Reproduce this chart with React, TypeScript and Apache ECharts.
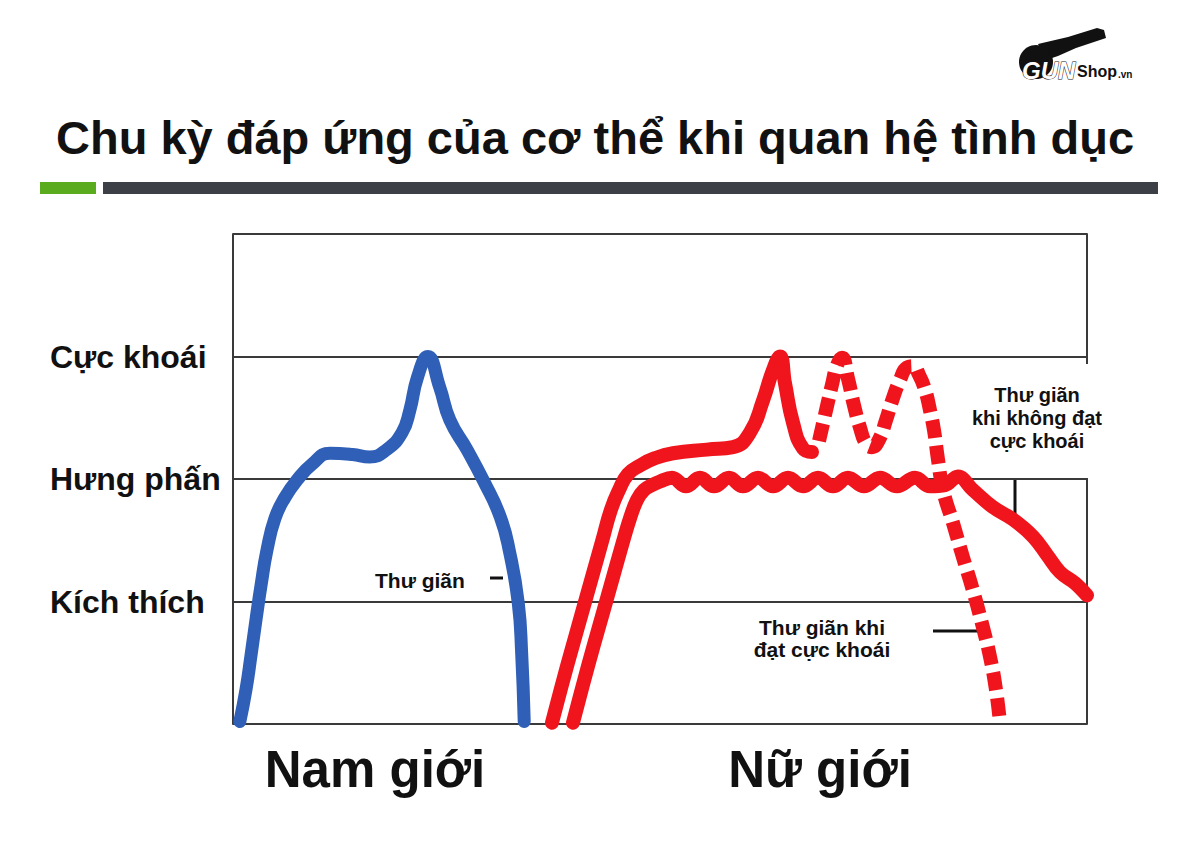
import React, { useEffect, useRef } from "react";
import * as echarts from "echarts";

// Y levels (0 = baseline, 4 = top of frame)
const levelLabels = ["", "Kích thích", "Hưng phấn", "Cực khoái", ""];

// Male curve (time 0..100, level 0..4)
const maleTime = [0.8, 1.52, 2.11, 2.69, 3.28, 3.98, 4.92, 6.09, 7.49, 9.25, 11.36, 14.0, 16.0, 18.0, 19.8, 20.7, 21.6, 22.8, 24.2, 25.4, 27.4, 29.3, 31.3, 32.4, 33.4, 33.8, 34.1];
const maleLevel = [0.02, 0.28, 0.56, 0.85, 1.13, 1.42, 1.68, 1.85, 1.99, 2.12, 2.21, 2.2, 2.18, 2.24, 2.38, 2.56, 2.83, 3.0, 2.75, 2.48, 2.24, 1.99, 1.69, 1.4, 0.99, 0.58, 0.02];

// Female: path reaching orgasm (solid part)
const femaleOrgTime = [37.35, 38.52, 39.7, 40.87, 42.04, 43.21, 44.26, 45.2, 46.25, 47.66, 49.41, 51.52, 55.5, 58.55, 60.54, 62.06, 63.23, 64.05, 64.64, 65.57, 66.74, 67.8];
const femaleOrgLevel = [0.01, 0.32, 0.62, 0.91, 1.2, 1.49, 1.75, 1.91, 2.04, 2.11, 2.17, 2.21, 2.24, 2.26, 2.38, 2.64, 2.89, 3.0, 2.78, 2.46, 2.25, 2.22];

// Female: multiple orgasms then relaxation (dashed)
const femaleMultiTime = [68.62, 69.44, 70.14, 70.73, 71.31, 72.01, 72.72, 73.42, 74.12, 74.82, 75.64, 76.46, 77.28, 78.1, 78.92, 79.63, 80.33, 81.03, 81.62, 82.08, 82.55, 83.14, 84.31, 85.48, 86.65, 87.7, 88.64, 89.34, 89.81];
const femaleMultiLevel = [2.31, 2.56, 2.77, 2.93, 2.99, 2.82, 2.6, 2.42, 2.29, 2.26, 2.32, 2.48, 2.66, 2.81, 2.91, 2.92, 2.85, 2.73, 2.56, 2.4, 2.16, 1.91, 1.64, 1.36, 1.09, 0.82, 0.55, 0.28, 0.01];

// Female: plateau without orgasm (solid, wavy)
const femalePlateauTime = [39.81, 40.98, 42.15, 43.33, 44.5, 45.55, 46.49, 47.31, 48.13, 49.06, 50.0, 51.41, 53.04, 54.68, 56.32, 58.08, 59.72, 61.48, 63.23, 64.99, 66.74, 68.5, 70.26, 72.01, 73.89, 75.76, 77.75, 79.86, 81.62, 83.37, 84.89, 86.65, 88.99, 91.33, 93.68, 95.32, 96.84, 98.59, 100];
const femalePlateauLevel = [0.01, 0.32, 0.62, 0.91, 1.2, 1.46, 1.68, 1.83, 1.91, 1.95, 1.98, 2.01, 1.94, 2.01, 1.94, 2.01, 1.94, 2.01, 1.94, 2.01, 1.94, 2.01, 1.94, 2.01, 1.94, 2.01, 1.94, 2.01, 1.94, 1.95, 2.02, 1.91, 1.77, 1.67, 1.53, 1.38, 1.24, 1.15, 1.05];

const titleText = "Chu kỳ đáp ứng của cơ thể khi quan hệ tình dục";
const groupLabels = ["Nam giới", "Nữ giới"];
const noteRelax = "Thư giãn";
const noteRelaxOrg = "Thư giãn khi\nđạt cực khoái";
const noteRelaxNoOrg = "Thư giãn\nkhi không đạt\ncực khoái";

const pair = (xs: number[], ys: number[]) => xs.map((x, i) => [x, ys[i]]);

const FONT = "'Liberation Sans', Arial, sans-serif";
const BLUE = "#2f5fb6";
const RED = "#f0151d";
const GRID = "#3a3a3a";

export default function App() {
  const ref = useRef<HTMLDivElement>(null);
  useEffect(() => {
    if (!ref.current) return;
    const chart = echarts.init(ref.current, undefined, { renderer: "svg" });
    const lineBase = { type: "line", smooth: 0.5, symbol: "none", silent: true };
    chart.setOption({
      animation: false,
      backgroundColor: "#ffffff",
      grid: { left: 233, right: 113, top: 234, bottom: 126, containLabel: false },
      xAxis: {
        type: "value",
        min: 0,
        max: 100,
        axisLine: { show: false },
        axisTick: { show: false },
        axisLabel: { show: false },
        splitLine: { show: false },
      },
      yAxis: [
        {
          type: "value",
          min: 0,
          max: 4,
          interval: 1,
          position: "left",
          axisLine: { show: true, lineStyle: { color: GRID, width: 2 } },
          axisTick: { show: false },
          axisLabel: {
            formatter: (v: number) => levelLabels[Math.round(v)] || "",
            align: "left",
            margin: 183,
            fontSize: 32,
            fontWeight: "bold",
            color: "#111",
            fontFamily: FONT,
          },
          splitLine: { show: true, lineStyle: { color: GRID, width: 2 } },
        },
        {
          type: "value",
          min: 0,
          max: 4,
          position: "right",
          axisLine: { show: true, lineStyle: { color: GRID, width: 2 } },
          axisTick: { show: false },
          axisLabel: { show: false },
          splitLine: { show: false },
        },
      ],
      series: [
        {
          ...lineBase,
          name: "male",
          data: pair(maleTime, maleLevel),
          lineStyle: { color: BLUE, width: 13, cap: "round", join: "round" },
        },
        {
          ...lineBase,
          name: "femalePlateau",
          smooth: 0.4,
          data: pair(femalePlateauTime, femalePlateauLevel),
          lineStyle: { color: RED, width: 14, cap: "round", join: "round" },
        },
        {
          ...lineBase,
          name: "femaleOrg",
          data: pair(femaleOrgTime, femaleOrgLevel),
          lineStyle: { color: RED, width: 14, cap: "round", join: "round" },
        },
        {
          ...lineBase,
          name: "femaleMulti",
          data: pair(femaleMultiTime, femaleMultiLevel),
          lineStyle: { color: RED, width: 14, type: [18, 8], cap: "butt", join: "round" },
        },
      ],
      graphic: [
        // logo
        {
          type: "polygon",
          shape: { points: [[1038, 44], [1068, 37], [1097, 28], [1104, 30], [1106, 38], [1076, 48], [1058, 56], [1046, 60]] },
          style: { fill: "#111" },
        },
        { type: "circle", shape: { cx: 1036, cy: 62, r: 17 }, style: { fill: "#111" } },
        {
          type: "text",
          x: 1022,
          y: 70,
          style: { text: "GUN", font: `italic bold 24px ${FONT}`, fill: "#fff", stroke: "#111", lineWidth: 1, verticalAlign: "middle" },
        },
        {
          type: "text",
          x: 1077,
          y: 71,
          style: { text: "Shop", font: `bold 16px ${FONT}`, fill: "#111", verticalAlign: "middle" },
        },
        {
          type: "text",
          x: 1118,
          y: 74,
          style: { text: ".vn", font: `bold 10px ${FONT}`, fill: "#111", verticalAlign: "middle" },
        },
        // title
        {
          type: "text",
          x: 595,
          y: 137,
          style: { text: titleText, font: `bold 47px ${FONT}`, fill: "#111", align: "center", verticalAlign: "middle" },
        },
        { type: "rect", shape: { x: 40, y: 182, width: 56, height: 12 }, style: { fill: "#5aab1e" } },
        { type: "rect", shape: { x: 103, y: 182, width: 1055, height: 12 }, style: { fill: "#3c4046" } },
        // bottom group labels
        {
          type: "text",
          x: 375,
          y: 769,
          style: { text: groupLabels[0], font: `bold 51px ${FONT}`, fill: "#111", align: "center", verticalAlign: "middle" },
        },
        {
          type: "text",
          x: 820,
          y: 769,
          style: { text: groupLabels[1], font: `bold 51px ${FONT}`, fill: "#111", align: "center", verticalAlign: "middle" },
        },
        // annotations
        {
          type: "text",
          x: 375,
          y: 580,
          style: { text: noteRelax, font: `bold 21px ${FONT}`, fill: "#111", verticalAlign: "middle" },
        },
        { type: "line", shape: { x1: 490, y1: 578, x2: 503, y2: 578 }, style: { stroke: "#111", lineWidth: 3 } },
        {
          type: "text",
          x: 822,
          y: 638,
          style: { text: noteRelaxOrg, font: `bold 21px ${FONT}`, fill: "#111", align: "center", verticalAlign: "middle", lineHeight: 22 },
        },
        { type: "line", shape: { x1: 933, y1: 631, x2: 978, y2: 631 }, style: { stroke: "#111", lineWidth: 3 } },
        { type: "rect", shape: { x: 1080, y: 364, width: 20, height: 114 }, style: { fill: "#fff" }, z: 10 },
        {
          type: "text",
          x: 1037,
          y: 418,
          z: 11,
          style: { text: noteRelaxNoOrg, font: `bold 20px ${FONT}`, fill: "#111", align: "center", verticalAlign: "middle", lineHeight: 23 },
        },
        { type: "line", shape: { x1: 1015, y1: 478, x2: 1015, y2: 514 }, style: { stroke: "#111", lineWidth: 3 } },
      ],
    });
    return () => chart.dispose();
  }, []);
  return (
    <div
      ref={ref}
      style={{ position: "absolute", left: 0, top: 0, width: 1200, height: 850, background: "#fff" }}
    />
  );
}
